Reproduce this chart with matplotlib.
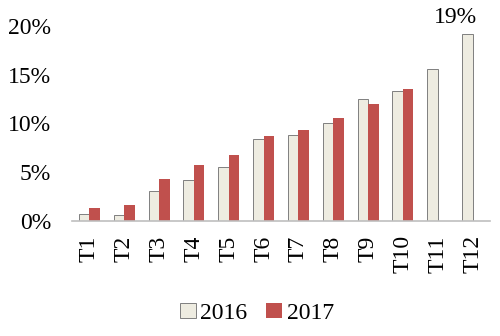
import numpy as np
import matplotlib.pyplot as plt

plt.rcParams['font.family'] = ['Liberation Serif', 'DejaVu Serif']

categories = ["T1", "T2", "T3", "T4", "T5", "T6", "T7", "T8", "T9", "T10", "T11", "T12"]
vals_2016 = [0.8, 0.7, 3.1, 4.2, 5.6, 8.4, 8.8, 10.1, 12.5, 13.3, 15.6, 19.1]
vals_2017 = [1.4, 1.7, 4.3, 5.8, 6.8, 8.7, 9.3, 10.6, 12.0, 13.5]
yticks = [0, 5, 10, 15, 20]

fig = plt.figure(figsize=(5, 3.36), dpi=100)
ax = fig.add_axes([0.144, 0.341, 0.836, 0.583])

x = np.arange(len(categories))
w = 0.3
ax.bar(x - w / 2, vals_2016, w, color="#EEECE1", edgecolor="#7F7F7F",
       linewidth=0.7, label="2016")
ax.bar(x[:len(vals_2017)] + w / 2, vals_2017, w, color="#C0504D",
       label="2017")

ax.text(x[-1] - 0.5, vals_2016[-1] + 0.6, "19%", ha="center", va="bottom",
        fontsize=17, clip_on=False)

ax.set_xlim(-0.5, len(categories) - 0.5)
ax.set_ylim(0, 20)
ax.set_yticks(yticks)
ax.set_yticklabels([f"{v}%" for v in yticks], fontsize=17)
ax.set_xticks(x)
ax.set_xticklabels(categories, rotation=90, fontsize=17)
ax.tick_params(axis="x", length=0, pad=10)
ax.tick_params(axis="y", length=0, pad=15)

for s in ["top", "right", "left"]:
    ax.spines[s].set_visible(False)
ax.spines["bottom"].set_color("#BFBFBF")
ax.spines["bottom"].set_linewidth(1.2)

fig.legend(loc="center", bbox_to_anchor=(0.514, 0.068), ncol=2, frameon=False,
           fontsize=17, handlelength=0.65, handleheight=0.65,
           handletextpad=0.2, columnspacing=0.8)

fig.savefig("out.png", dpi=100)
